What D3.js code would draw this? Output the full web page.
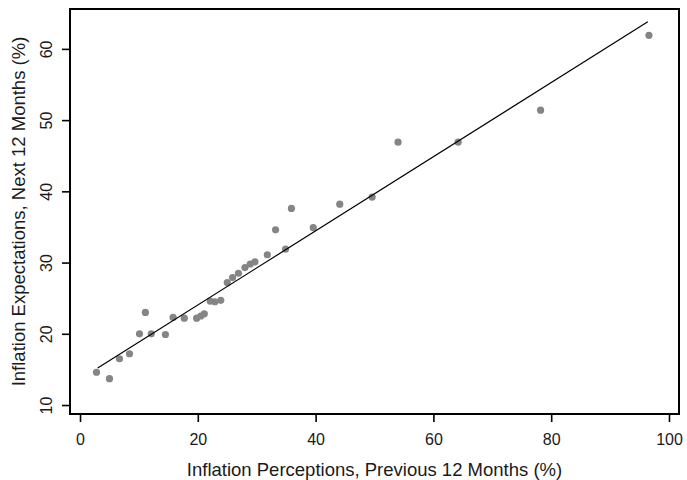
<!DOCTYPE html>
<html>
<head>
<meta charset="utf-8">
<script src="https://cdn.jsdelivr.net/npm/d3@7"></script>
<style>
  body { margin: 0; background: #fff; }
  svg text { font-family: "Liberation Sans", Arial, sans-serif; fill: #1a1a1a; }
</style>
</head>
<body>
<div id="chart"></div>
<script>
// perceptions (x) and expectations (y)
var perceptions = [2.8, 5.0, 6.7, 8.4, 10.1, 11.1, 12.1, 14.5, 15.8, 17.7, 19.8, 20.5, 21.1,
    22.1, 22.9, 23.9, 25.0, 25.9, 26.9, 28.0, 28.9, 29.7, 31.8, 33.2, 34.9, 35.9, 39.6,
    44.1, 49.6, 54.0, 64.2, 78.2, 96.6];
var expectations = [14.6, 13.7, 16.5, 17.2, 20.0, 23.0, 20.0, 19.9, 22.3, 22.2, 22.2, 22.5, 22.8,
    24.6, 24.5, 24.7, 27.2, 27.9, 28.5, 29.3, 29.8, 30.1, 31.1, 34.6, 31.9, 37.6, 34.9,
    38.2, 39.2, 46.9, 46.9, 51.4, 61.9];

// fitted line end points
var fitX = [3.0, 96.4];
var fitY = [15.2, 63.8];

var xTicks = [0, 20, 40, 60, 80, 100];
var yTicks = [10, 20, 30, 40, 50, 60];

var xTitle = "Inflation Perceptions, Previous 12 Months (%)";
var yTitle = "Inflation Expectations, Next 12 Months (%)";

var W = 687, H = 480;
var plot = {left: 70, right: 679, top: 9, bottom: 414};

var x = d3.scaleLinear().domain([-1.7, 101.7]).range([plot.left, plot.right]);
var y = d3.scaleLinear().domain([8.74, 65.6]).range([plot.bottom, plot.top]);

var svg = d3.select("#chart").append("svg")
    .attr("width", W)
    .attr("height", H);

// points
var pts = perceptions.map(function(d, i) { return {x: d, y: expectations[i]}; });
svg.append("g")
    .selectAll("circle")
    .data(pts)
    .enter()
    .append("circle")
    .attr("cx", function(d) { return x(d.x); })
    .attr("cy", function(d) { return y(d.y); })
    .attr("r", 3.6)
    .attr("fill", "#858585");

// fit line
var fit = fitX.map(function(d, i) { return [d, fitY[i]]; });
svg.append("path")
    .datum(fit)
    .attr("fill", "none")
    .attr("stroke", "#000")
    .attr("stroke-width", 1.2)
    .attr("d", d3.line().x(function(d) { return x(d[0]); }).y(function(d) { return y(d[1]); }));

// frame
svg.append("rect")
    .attr("x", plot.left)
    .attr("y", plot.top)
    .attr("width", plot.right - plot.left)
    .attr("height", plot.bottom - plot.top)
    .attr("fill", "none")
    .attr("stroke", "#000")
    .attr("stroke-width", 2);

// x axis
var gx = svg.append("g")
    .attr("transform", "translate(0," + plot.bottom + ")")
    .call(d3.axisBottom(x).tickValues(xTicks).tickSize(8).tickSizeOuter(0));
gx.select(".domain").remove();
gx.selectAll(".tick line").attr("stroke", "#000").attr("stroke-width", 1.6);
gx.selectAll(".tick text")
    .attr("y", 31)
    .attr("dy", null)
    .style("font-size", "16px");

// y axis
var gy = svg.append("g")
    .attr("transform", "translate(" + plot.left + ",0)")
    .call(d3.axisLeft(y).tickValues(yTicks).tickSize(8).tickSizeOuter(0));
gy.select(".domain").remove();
gy.selectAll(".tick line").attr("stroke", "#000").attr("stroke-width", 1.6);
gy.selectAll(".tick text")
    .attr("x", 0)
    .attr("dy", null)
    .attr("text-anchor", "middle")
    .attr("transform", "translate(-18,0) rotate(-90)")
    .style("font-size", "16px");

// titles
svg.append("text")
    .attr("x", (plot.left + plot.right) / 2)
    .attr("y", 476)
    .attr("text-anchor", "middle")
    .style("font-size", "18.5px")
    .text(xTitle);

svg.append("text")
    .attr("transform", "translate(25," + (plot.top + plot.bottom) / 2 + ") rotate(-90)")
    .attr("text-anchor", "middle")
    .style("font-size", "18.5px")
    .text(yTitle);
</script>
</body>
</html>
